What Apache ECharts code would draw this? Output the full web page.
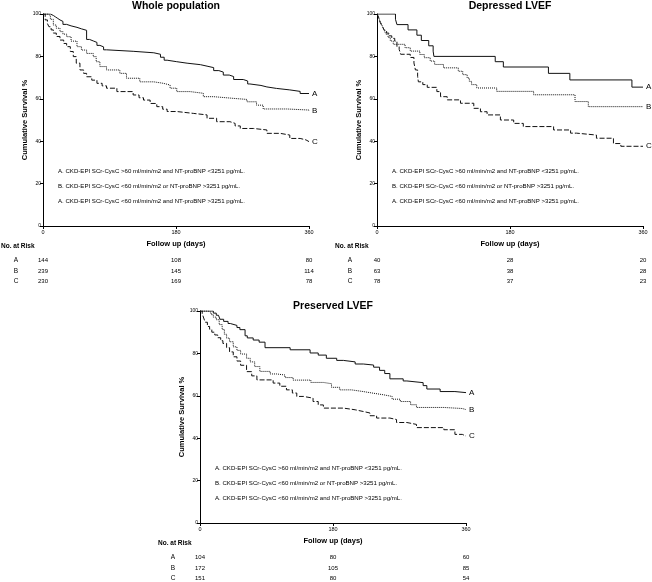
<!DOCTYPE html>
<html>
<head>
<meta charset="utf-8">
<script src="https://cdn.jsdelivr.net/npm/echarts@6/dist/echarts.min.js"></script>
<style>
  html, body { margin: 0; padding: 0; background: #fff; }
  #chart { width: 652px; height: 582px; }
</style>
</head>
<body>
<div id="chart"></div>
<script>
// Kaplan-Meier steps, [day, survival %]
const wholeA = [[0,100],[10,99.3],[14,98.6],[17,97.9],[20,97.2],[23,96.5],[27,95.1],[32,94.4],[38,93.7],[46,93],[52,92.3],[59,88],[63,87.3],[68,86.6],[73,85.2],[77,84.5],[82,83.1],[86,82.4],[122,81.7],[150,81],[159,79.6],[164,78.2],[168,77.5],[181,76.8],[195,76.1],[213,75.4],[222,74.7],[231,73.3],[238,72.6],[244,71.2],[252,70.5],[258,69.1],[271,68.4],[277,67],[280,66.3],[295,65.6],[303,64.9],[316,64.2],[334,63.5],[348,62.5],[360,62.5]];
const wholeB = [[0,100],[7,99.2],[10,97.5],[14,94.8],[18,93.3],[23,91.7],[27,90.5],[32,89.3],[38,87.2],[46,84.6],[52,83],[59,81.4],[68,79.9],[72,77.5],[77,75.2],[86,73.6],[104,72],[113,69.7],[131,68],[150,67.3],[163,66.5],[172,65],[181,63.4],[199,62.6],[217,61],[231,60.2],[258,59.7],[276,58.6],[289,57],[298,55.2],[330,54.7],[360,54.2]];
const wholeC = [[0,100],[3,97.2],[6,95.5],[8,94],[11,92.5],[14,91],[18,89.4],[23,87.7],[28,86.1],[32,84.6],[37,82.3],[41,79.9],[45,76.8],[50,73.6],[55,72],[59,70.4],[66,68.8],[73,67.3],[80,66.1],[86,65],[100,63.4],[122,61.8],[130,60.5],[136,59.4],[145,57.8],[154,56.3],[162,55.1],[168,54],[181,53.1],[204,52.4],[222,50.8],[235,49.2],[253,48.4],[260,47.2],[267,46],[285,45.3],[303,43.7],[321,42.9],[334,41.3],[348,40.6],[356,39.8],[360,39.8]];

const depA = [[0,100],[25,97.5],[27,95],[42,92.5],[54,90],[60,87.5],[70,85],[76,82.5],[77,80],[160,77.5],[171,75],[232,72],[261,68.9],[345,65.5],[360,65.5]];
const depB = [[0,100],[2,98.4],[4,96.8],[6,95.2],[8,93.7],[10,92.1],[12,90.5],[15,88.9],[18,87.3],[22,85.7],[38,84.1],[45,82.5],[58,80.9],[64,79.4],[72,77.8],[78,76.2],[90,74.6],[110,73],[116,71.4],[122,69.8],[125,68.2],[128,66.7],[135,65.1],[162,63.5],[212,61.9],[268,58.7],[286,56.3],[360,56.3]];
const depC = [[0,100],[2,98.7],[3,97.4],[4,96.2],[6,94.9],[8,93.6],[10,92.3],[13,91],[16,89.7],[20,88.5],[24,87.2],[27,84.6],[30,83.3],[32,81],[45,79.5],[50,76.9],[52,73.6],[55,70.5],[56,68],[62,66.7],[68,65.4],[81,63.4],[86,61],[95,59.5],[113,57.9],[131,55.5],[140,53.9],[149,52.4],[167,50],[185,48.4],[198,46.9],[239,45.3],[262,43.8],[270,42.9],[297,41.4],[320,38.9],[330,37.6],[360,37.6]];

const presA = [[0,100],[18,99],[22,98],[25,97.1],[27,96.1],[32,95.1],[38,94.1],[41,93.2],[50,92.2],[54,91.2],[61,88.3],[64,87.3],[72,86.3],[80,85.3],[88,82.7],[122,81.7],[149,80.2],[160,79.2],[171,77.7],[185,76.7],[194,76],[210,75],[221,74.5],[235,73.5],[243,72],[250,70.5],[257,68],[275,67],[280,66.2],[302,64.8],[307,63.2],[325,62],[345,61.5],[360,61.5]];
const presB = [[0,100],[11,99.4],[15,98.3],[18,97.1],[22,95.9],[26,93.6],[30,91.3],[33,89],[36,87.2],[40,85.5],[45,83.1],[50,81.4],[55,79.7],[63,77.7],[68,76],[74,73.8],[81,71.5],[95,70.3],[104,69.8],[115,68.6],[126,67.4],[150,66.3],[167,65.7],[178,64],[189,62.8],[205,62],[221,61.2],[235,60.5],[248,59.7],[260,58.4],[271,57.3],[285,55.8],[293,54.5],[330,54],[355,53.5],[360,53.5]];
const presC = [[0,100],[3,98.7],[5,96.7],[7,94.7],[10,92.7],[13,91.4],[16,90],[20,88.7],[24,87.4],[28,86],[31,84.7],[36,82.7],[40,80.7],[45,78.4],[50,76.4],[55,74.4],[63,71.4],[70,69.4],[77,67.5],[99,66],[108,64.5],[117,62.8],[125,61.3],[131,59.7],[140,58.9],[153,57.3],[160,55.7],[167,54.2],[194,53.4],[210,52.6],[221,51.9],[230,50.6],[239,49.5],[257,48.8],[266,47.4],[280,46.5],[293,45],[330,44],[345,41.8],[355,41],[360,41]];

// numbers at risk at day 0, 180, 360
const riskDays = [0, 180, 360];
const groupNames = ['A', 'B', 'C'];
const wholeRisk = [[144, 108, 80], [239, 145, 114], [230, 169, 78]];
const depRisk = [[40, 28, 20], [63, 38, 28], [78, 37, 23]];
const presRisk = [[104, 80, 60], [172, 105, 85], [151, 80, 54]];

const titles = ['Whole population', 'Depressed LVEF', 'Preserved LVEF'];
const legendLines = [
  'A. CKD-EPI SCr-CysC >60 ml/min/m2 and NT-proBNP <3251 pg/mL.',
  'B. CKD-EPI SCr-CysC <60 ml/min/m2 or NT-proBNP >3251 pg/mL.',
  'A. CKD-EPI SCr-CysC <60 ml/min/m2 and NT-proBNP >3251 pg/mL.'
];

const FONT = '"Liberation Sans", Arial, sans-serif';
const W = 266;
const H = 212;
const lineTypes = ['solid', [1, 1], [5, 2]];

const panels = [
  { curves: [wholeA, wholeB, wholeC], risk: wholeRisk, left: 43, top: 14, titleY: 6 },
  { curves: [depA, depB, depC], risk: depRisk, left: 377, top: 14, titleY: 6 },
  { curves: [presA, presB, presC], risk: presRisk, left: 200, top: 311, titleY: 306 }
];

const chart = echarts.init(document.getElementById('chart'));

const grid = [], xAxis = [], yAxis = [], series = [], graphic = [];
const axisLine = { show: true, lineStyle: { color: '#000', width: 1 } };
const tick = { show: true, length: 3, lineStyle: { color: '#000', width: 1 } };

panels.forEach((p, i) => {
  grid.push({ left: p.left, top: p.top, width: W, height: H, outerBoundsMode: 'none' });
  xAxis.push({
    gridIndex: i, type: 'value', min: 0, max: 360, interval: 180,
    axisLine: axisLine, axisTick: tick, splitLine: { show: false },
    axisLabel: { fontSize: 5.5, color: '#000', margin: 3, fontFamily: FONT },
    name: 'Follow up (days)', nameLocation: 'middle', nameGap: 14,
    nameTextStyle: { fontSize: 7.5, fontWeight: 'bold', color: '#000', fontFamily: FONT }
  });
  yAxis.push({
    gridIndex: i, type: 'value', min: 0, max: 100, interval: 20,
    axisLine: axisLine, axisTick: tick, splitLine: { show: false },
    axisLabel: { fontSize: 5, color: '#000', margin: 2, fontFamily: FONT },
    name: 'Cumulative Survival %', nameLocation: 'middle', nameGap: 11,
    nameTextStyle: { fontSize: 7.5, fontWeight: 'bold', color: '#000', fontFamily: FONT }
  });
  p.curves.forEach((c, k) => {
    series.push({
      type: 'line', xAxisIndex: i, yAxisIndex: i, step: 'end', data: c,
      symbol: 'none', silent: true, animation: false,
      lineStyle: { color: '#111', width: 1, type: lineTypes[k] },
      endLabel: {
        show: true, formatter: groupNames[k], distance: 3,
        fontSize: 8, color: '#000', fontFamily: FONT
      }
    });
  });

  const cx = p.left + W / 2;
  graphic.push({
    type: 'text', x: cx, y: p.titleY,
    style: { text: titles[i], fontSize: 10.5, fontWeight: 'bold', fontFamily: FONT, fill: '#000', align: 'center', verticalAlign: 'middle' }
  });
  legendLines.forEach((t, j) => {
    graphic.push({
      type: 'text', x: p.left + 15, y: p.top + 157 + 15 * j,
      style: { text: t, fontSize: 6.1, fontFamily: FONT, fill: '#000', align: 'left', verticalAlign: 'middle' }
    });
  });
  graphic.push({
    type: 'text', x: p.left - 42, y: p.top + 232,
    style: { text: 'No. at Risk', fontSize: 6.5, fontWeight: 'bold', fontFamily: FONT, fill: '#000', align: 'left', verticalAlign: 'middle' }
  });
  const rowY = [246, 257, 267];
  p.risk.forEach((row, k) => {
    const y = p.top + rowY[k];
    graphic.push({
      type: 'text', x: p.left - 27, y: y,
      style: { text: groupNames[k], fontSize: 6.5, fontFamily: FONT, fill: '#000', align: 'center', verticalAlign: 'middle' }
    });
    row.forEach((n, m) => {
      graphic.push({
        type: 'text', x: p.left + riskDays[m] / 360 * W, y: y,
        style: { text: String(n), fontSize: 6, fontFamily: FONT, fill: '#000', align: 'center', verticalAlign: 'middle' }
      });
    });
  });
});

chart.setOption({
  backgroundColor: '#fff',
  animation: false,
  grid: grid,
  xAxis: xAxis,
  yAxis: yAxis,
  series: series,
  graphic: graphic
});
</script>
</body>
</html>
